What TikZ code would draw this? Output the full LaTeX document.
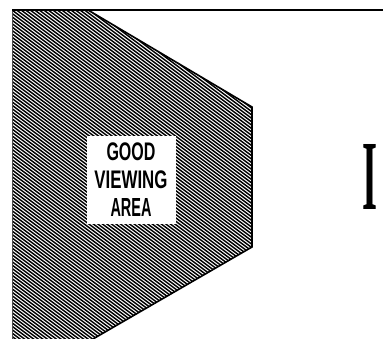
\documentclass[tikz,border=0pt]{standalone}
\usepackage{fontspec}
\usepackage{graphicx}
\newfontfamily\labelfont{Liberation Sans Bold}
\newfontfamily\bigserif{Liberation Serif Bold}
\newcommand{\fitline}[2]{\resizebox*{#1}{18pt}{#2}}
\tikzset{
  hatchline/.style={line width=1.45pt, black},
  edge/.style={line width=1.6pt, black, line join=miter},
  labelbox/.style={fill=white, inner sep=0pt, minimum width=89pt, minimum height=88pt,
    align=center, font=\labelfont\fontsize{20}{28}\selectfont},
}
\begin{document}
\begin{tikzpicture}[x=1pt,y=-1pt]
\useasboundingbox (0,0) rectangle (383,339);
\fill[white] (0,0) rectangle (383,339);
% polygon corners
\coordinate (tl) at (12,10);
\coordinate (tm) at (88,10);
\coordinate (rt) at (252,107);
\coordinate (rb) at (252,247);
\coordinate (bm) at (93,339);
\coordinate (bl) at (12,339);
\coordinate (tr) at (383,10);
% hatching
\begin{scope}
  \clip (tl) -- (tm) -- (rt) -- (rb) -- (bm) -- (bl) -- cycle;
  \foreach \c in {-220,-216.6,...,345} {
    \draw[hatchline] (0,\c) -- (270,\c+202.5);
  }
\end{scope}
% outline
\draw[edge] (tm) -- (rt) -- (rb) -- (bm);
\draw[line width=0.8pt, black!70] (tl) -- (bl);
\draw[line width=1.3pt] (tl) -- (tr);
% label
\node[labelbox] (label) at (131,180) {\fitline{49pt}{GOOD}\\\fitline{73pt}{VIEWING}\\\fitline{41pt}{AREA}};
% big I
\node[inner sep=0pt] (bigI) at (370,176.5) {\resizebox{15pt}{65pt}{\bigserif I}};
\end{tikzpicture}
\end{document}
